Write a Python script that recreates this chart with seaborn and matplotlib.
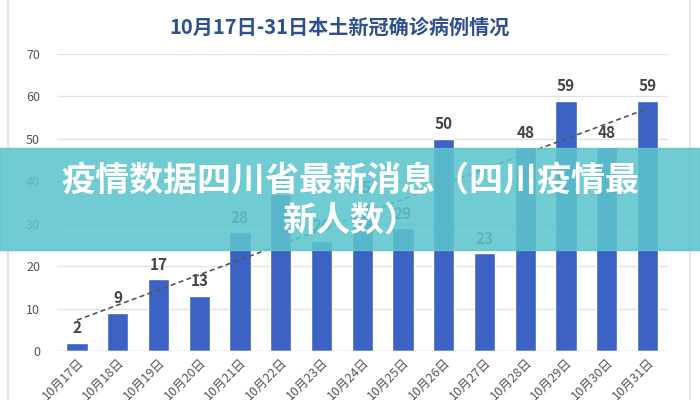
import numpy as np
import pandas as pd
import matplotlib
matplotlib.use("Agg")
import matplotlib.pyplot as plt
from matplotlib.patches import Rectangle
import seaborn as sns

# daily local cases, Oct 17 - Oct 31
days = ["10月17日", "10月18日", "10月19日", "10月20日", "10月21日", "10月22日", "10月23日",
        "10月24日", "10月25日", "10月26日", "10月27日", "10月28日", "10月29日", "10月30日", "10月31日"]
cases = [2, 9, 17, 13, 28, 37, 26, 35, 29, 50, 23, 48, 59, 48, 59]
y_ticks = [0, 10, 20, 30, 40, 50, 60, 70]

title = "10月17日-31日本土新冠确诊病例情况"
banner = "疫情数据四川省最新消息（四川疫情最\n新人数）"

df = pd.DataFrame({"day": days, "cases": cases})

sns.set_style("white")
plt.rcParams["font.family"] = ["Noto Sans CJK SC", "DejaVu Sans"]

fig = plt.figure(figsize=(7, 4), dpi=100)
ax = fig.add_axes([0.081, 0.1225, 0.873, 0.7425])

sns.barplot(data=df, x="day", y="cases", color="#3c62c4", width=0.52, saturation=1, ax=ax)

# value labels
for i, v in enumerate(cases):
    ax.text(i, v + 1.5, str(v), ha="center", va="bottom", fontsize=11,
            fontweight="bold", color="#444444")

# linear trend line
x = np.arange(len(cases))
k, b = np.polyfit(x, cases, 1)
ax.plot(x, k * x + b, ls=(0, (3, 2)), color="#555555", lw=1.2, zorder=3)

ax.set_ylim(0, 70)
ax.set_xlim(-0.5, len(days) - 0.5)
ax.set_yticks(y_ticks)
ax.yaxis.grid(True, color="#e3e3e3", lw=1)
ax.set_axisbelow(True)
ax.tick_params(axis="y", labelsize=9, colors="#555555", length=0, pad=12)
ax.tick_params(axis="x", labelsize=9, colors="#555555", length=0)
plt.setp(ax.get_xticklabels(), rotation=45, ha="right", rotation_mode="anchor")
ax.set_xlabel("")
ax.set_ylabel("")
for s in ax.spines.values():
    s.set_visible(False)
ax.axhline(0, color="#d9d9d9", lw=1)

fig.text(0.485, 0.932, title, ha="center", va="center", fontsize=14.5,
         fontweight="bold", color="#2f4f8f")

# outer frame
fig.patches.append(Rectangle((0.012, -0.02), 0.973, 1.1, transform=fig.transFigure,
                             fill=False, ec="#e2e2e2", lw=1.2))

# teal banner over the chart
fig.patches.append(Rectangle((0, 0.375), 1, 0.255, transform=fig.transFigure,
                             color="#5cc4cc", alpha=0.88, zorder=5))
fig.text(0.5, 0.5, banner, ha="center", va="center", fontsize=24.5, fontweight="bold",
         color="white", linespacing=1.15, zorder=6)

fig.savefig("out.png", dpi=100)
